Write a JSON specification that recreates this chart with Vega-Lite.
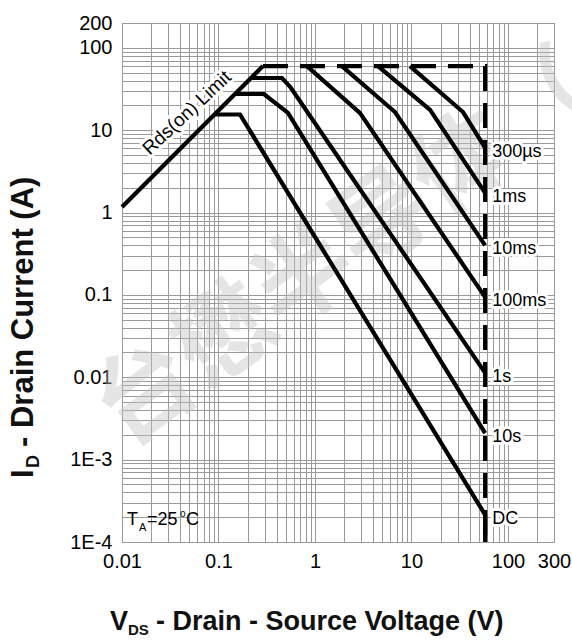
{
  "$schema": "https://vega.github.io/schema/vega-lite/v6.json",
  "width": 432,
  "height": 519,
  "autosize": {"type": "none"},
  "padding": {"left": 122, "top": 23, "right": 18, "bottom": 101},
  "background": "white",
  "config": {
    "view": {"stroke": "#333333", "strokeWidth": 1},
    "font": "Liberation Sans",
    "text": {"font": "Liberation Sans"}
  },
  "encoding": {
    "x": {
      "field": "V", "type": "quantitative",
      "scale": {"type": "log", "domain": [0.01, 300], "nice": false},
      "axis": {
        "title": null, "domain": false, "ticks": false, "tickSize": 0,
        "grid": true, "gridColor": "#9a9a9a", "gridWidth": 1,
        "values": [0.01,0.02,0.03,0.04,0.05,0.06,0.07,0.08,0.09,0.1,0.2,0.3,0.4,0.5,0.6,0.7,0.8,0.9,1,2,3,4,5,6,7,8,9,10,20,30,40,50,60,70,80,90,100,200,300],
        "labelExpr": "datum.value==0.01?'0.01':datum.value==0.1?'0.1':datum.value==1?'1':datum.value==10?'10':datum.value==100?'100':datum.value==300?'300':''",
        "labelOverlap": false, "labelFlush": false, "labelBound": false,
        "labelFontSize": 20, "labelColor": "#000000", "labelPadding": 9, "labelFont": "Liberation Sans"
      }
    },
    "y": {
      "field": "I", "type": "quantitative",
      "scale": {"type": "log", "domain": [0.0001, 200], "nice": false},
      "axis": {
        "title": null, "domain": false, "ticks": false, "tickSize": 0,
        "grid": true, "gridColor": "#9a9a9a", "gridWidth": 1,
        "values": [0.0001,0.0002,0.0003,0.0004,0.0005,0.0006,0.0007,0.0008,0.0009,0.001,0.002,0.003,0.004,0.005,0.006,0.007,0.008,0.009,0.01,0.02,0.03,0.04,0.05,0.06,0.07,0.08,0.09,0.1,0.2,0.3,0.4,0.5,0.6,0.7,0.8,0.9,1,2,3,4,5,6,7,8,9,10,20,30,40,50,60,70,80,90,100,200],
        "labelExpr": "datum.value==200?'200':datum.value==100?'100':datum.value==10?'10':datum.value==1?'1':datum.value==0.1?'0.1':datum.value==0.01?'0.01':datum.value==0.001?'1E-3':datum.value==0.0001?'1E-4':''",
        "labelOverlap": false, "labelFlush": false, "labelBound": false,
        "labelFontSize": 20, "labelColor": "#000000", "labelPadding": 10, "labelFont": "Liberation Sans"
      }
    }
  },
  "layer": [
    {
      "data": {"values": [{"V": 2.1, "I": 0.33, "t": "台懋半导体（"}]},
      "mark": {"type": "text", "font": "Noto Sans CJK SC", "fontSize": 98, "fontWeight": "bold", "angle": -36, "align": "center", "baseline": "middle", "fill": "#c2c2c2", "opacity": 0.42},
      "encoding": {"text": {"field": "t"}}
    },
    {
      "data": {"values": [
        {"curve": "Rds", "k": 1, "V": 0.01, "I": 1.17},
        {"curve": "Rds", "k": 2, "V": 0.289, "I": 60},
        {"curve": "DC", "k": 1, "V": 0.091, "I": 15.5},
        {"curve": "DC", "k": 2, "V": 0.167, "I": 15.5},
        {"curve": "DC", "k": 3, "V": 58, "I": 0.000214},
        {"curve": "DC", "k": 4, "V": 58, "I": 0.0001},
        {"curve": "10s", "k": 1, "V": 0.149, "I": 27.5},
        {"curve": "10s", "k": 2, "V": 0.296, "I": 27.5},
        {"curve": "10s", "k": 3, "V": 0.525, "I": 16.2},
        {"curve": "10s", "k": 4, "V": 58, "I": 0.0021},
        {"curve": "1s", "k": 1, "V": 0.218, "I": 43},
        {"curve": "1s", "k": 2, "V": 0.455, "I": 43},
        {"curve": "1s", "k": 3, "V": 0.56, "I": 33},
        {"curve": "1s", "k": 4, "V": 58, "I": 0.0113},
        {"curve": "100ms", "k": 1, "V": 0.826, "I": 60},
        {"curve": "100ms", "k": 2, "V": 2.92, "I": 16.2},
        {"curve": "100ms", "k": 3, "V": 58, "I": 0.094},
        {"curve": "10ms", "k": 1, "V": 1.9, "I": 60},
        {"curve": "10ms", "k": 2, "V": 6.75, "I": 16.6},
        {"curve": "10ms", "k": 3, "V": 58, "I": 0.40},
        {"curve": "1ms", "k": 1, "V": 4.5, "I": 60},
        {"curve": "1ms", "k": 2, "V": 15.6, "I": 17.6},
        {"curve": "1ms", "k": 3, "V": 58, "I": 1.73},
        {"curve": "300us", "k": 1, "V": 9.64, "I": 60},
        {"curve": "300us", "k": 2, "V": 34.2, "I": 16.6},
        {"curve": "300us", "k": 3, "V": 58, "I": 6.08}
      ]},
      "mark": {"type": "line", "color": "#000000", "strokeWidth": 4.2, "strokeCap": "butt", "strokeJoin": "miter"},
      "encoding": {"detail": {"field": "curve"}, "order": {"field": "k", "type": "quantitative"}}
    },
    {
      "data": {"values": [
        {"k": 1, "V": 0.289, "I": 60},
        {"k": 2, "V": 58, "I": 60},
        {"k": 3, "V": 58, "I": 0.0001}
      ]},
      "mark": {"type": "line", "color": "#000000", "strokeWidth": 4.2, "strokeDash": [25, 12], "strokeCap": "butt"},
      "encoding": {"order": {"field": "k", "type": "quantitative"}}
    },
    {
      "data": {"values": [
        {"V": 58, "I": 6.08, "t": "300µs"},
        {"V": 58, "I": 1.73, "t": "1ms"},
        {"V": 58, "I": 0.40, "t": "10ms"},
        {"V": 58, "I": 0.094, "t": "100ms"},
        {"V": 58, "I": 0.0113, "t": "1s"},
        {"V": 58, "I": 0.0021, "t": "10s"},
        {"V": 58, "I": 0.000214, "t": "DC"}
      ]},
      "layer": [
        {"mark": {"type": "text", "align": "left", "baseline": "middle", "dx": 7, "dy": 4, "fontSize": 18, "fill": "white", "stroke": "white", "strokeWidth": 6, "strokeJoin": "round"}, "encoding": {"text": {"field": "t"}}},
        {"mark": {"type": "text", "align": "left", "baseline": "middle", "dx": 7, "dy": 4, "fontSize": 18, "fill": "#000000"}, "encoding": {"text": {"field": "t"}}}
      ]
    },
    {
      "data": {"values": [{"V": 0.047, "I": 16.2, "t": "Rds(on) Limit"}]},
      "layer": [
        {"mark": {"type": "text", "align": "center", "baseline": "middle", "angle": -43, "fontSize": 19, "fill": "white", "stroke": "white", "strokeWidth": 6, "strokeJoin": "round"}, "encoding": {"text": {"field": "t"}}},
        {"mark": {"type": "text", "align": "center", "baseline": "middle", "angle": -43, "fontSize": 19, "fill": "#000000"}, "encoding": {"text": {"field": "t"}}}
      ]
    },
    {
      "data": {"values": [{"V": 0.01, "I": 0.000162}]},
      "layer": [
        {"mark": {"type": "text", "text": "T", "align": "left", "baseline": "alphabetic", "dx": 5, "fontSize": 18, "fill": "#000000"}},
        {"mark": {"type": "text", "text": "A", "align": "left", "baseline": "alphabetic", "dx": 17, "dy": 6, "fontSize": 11, "fill": "#000000"}},
        {"mark": {"type": "text", "text": "=25", "align": "left", "baseline": "alphabetic", "dx": 25, "fontSize": 18, "fill": "#000000"}},
        {"mark": {"type": "text", "text": "o", "align": "left", "baseline": "alphabetic", "dx": 58, "dy": -8, "fontSize": 10, "fill": "#000000"}},
        {"mark": {"type": "text", "text": "C", "align": "left", "baseline": "alphabetic", "dx": 64, "fontSize": 18, "fill": "#000000"}}
      ]
    },
    {
      "data": {"values": [{"V": 0.01, "I": 0.0001}]},
      "layer": [
        {"mark": {"type": "text", "text": "V", "align": "left", "baseline": "alphabetic", "dx": -12, "dy": 88, "fontSize": 27, "fontWeight": "bold", "fill": "#111111"}},
        {"mark": {"type": "text", "text": "DS", "align": "left", "baseline": "alphabetic", "dx": 6, "dy": 93, "fontSize": 15, "fontWeight": "bold", "fill": "#111111"}},
        {"mark": {"type": "text", "text": "- Drain - Source Voltage (V)", "align": "left", "baseline": "alphabetic", "dx": 34, "dy": 88, "fontSize": 27, "fontWeight": "bold", "fill": "#111111"}},
        {"mark": {"type": "text", "text": "I", "align": "left", "baseline": "alphabetic", "angle": -90, "dx": 64, "dy": -89, "fontSize": 31, "fontWeight": "bold", "fill": "#111111"}},
        {"mark": {"type": "text", "text": "D", "align": "left", "baseline": "alphabetic", "angle": -90, "dx": 74, "dy": -83, "fontSize": 18, "fontWeight": "bold", "fill": "#111111"}},
        {"mark": {"type": "text", "text": "- Drain Current (A)", "align": "left", "baseline": "alphabetic", "angle": -90, "dx": 95, "dy": -89, "fontSize": 31, "fontWeight": "bold", "fill": "#111111"}}
      ]
    }
  ]
}
